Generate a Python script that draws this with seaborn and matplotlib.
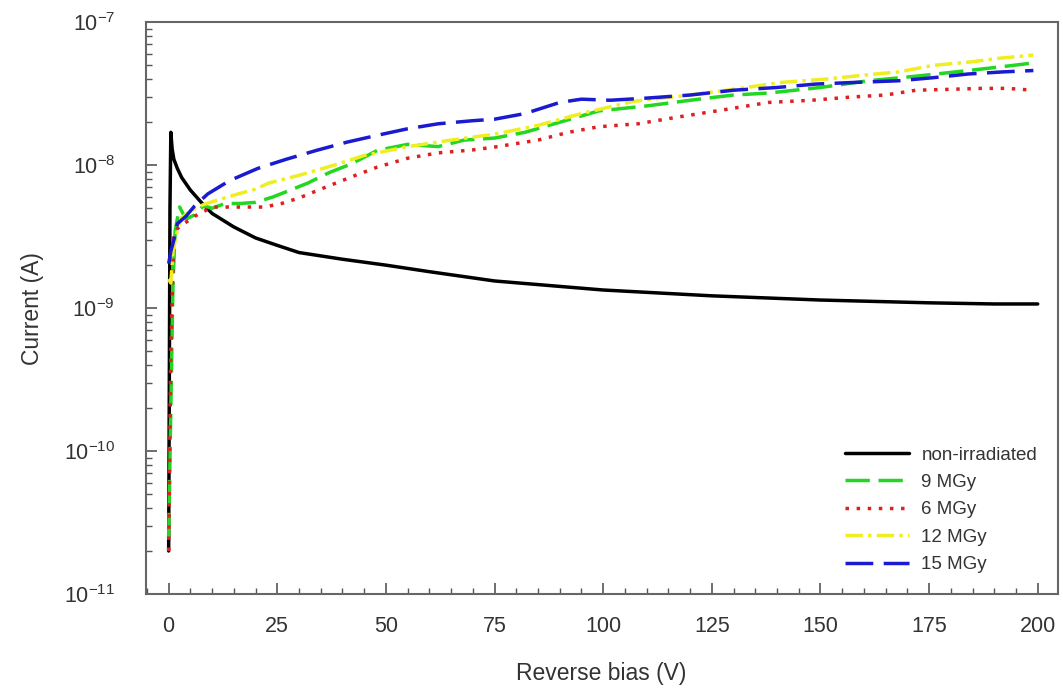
import numpy as np
import pandas as pd
import matplotlib
matplotlib.use("Agg")
import matplotlib.pyplot as plt
import matplotlib.ticker as mticker
import seaborn as sns

# ---- data ----
v_non = [0, 0.15, 0.3, 0.5, 0.8, 1.2, 2, 3, 5, 7.5, 10, 15, 20, 25, 30, 40, 50, 60, 75, 90, 100, 125, 150, 175, 190, 200]
i_non = [2e-11, 3e-10, 5e-9, 1.7e-8, 1.3e-8, 1.1e-8, 9.5e-9, 8.2e-9, 6.7e-9, 5.5e-9, 4.6e-9, 3.7e-9, 3.1e-9, 2.75e-9,
         2.45e-9, 2.2e-9, 2.0e-9, 1.8e-9, 1.55e-9, 1.42e-9, 1.34e-9, 1.22e-9, 1.14e-9, 1.09e-9, 1.07e-9, 1.07e-9]

v_9 = [0, 0.5, 1, 1.5, 2.5, 4, 6, 8, 10, 13, 16.5, 20, 24, 28, 32, 37, 42, 48, 55, 62, 68, 75, 82, 90, 99, 110,
       122, 130, 138, 150, 161, 172, 184, 192, 199]
i_9 = [2.5e-11, 2e-10, 1.5e-9, 3.5e-9, 5.1e-9, 4.2e-9, 4.5e-9, 5.2e-9, 5.0e-9, 5.4e-9, 5.4e-9, 5.5e-9, 6.0e-9, 6.7e-9,
       7.5e-9, 8.9e-9, 1.02e-8, 1.27e-8, 1.4e-8, 1.35e-8, 1.5e-8, 1.55e-8, 1.7e-8, 2.0e-8, 2.4e-8, 2.6e-8, 2.9e-8,
       3.1e-8, 3.2e-8, 3.5e-8, 3.9e-8, 4.2e-8, 4.6e-8, 4.9e-8, 5.2e-8]

v_6 = [0, 0.5, 1.2, 2, 3.5, 6, 10, 15, 22, 26, 30, 37, 43, 48, 55, 62, 70, 75, 85, 92, 99, 108, 117, 128, 138, 148,
       157, 165, 172, 180, 187, 193, 199]
i_6 = [2e-11, 5e-10, 3.3e-9, 3.6e-9, 3.9e-9, 4.4e-9, 5.1e-9, 5.1e-9, 5.1e-9, 5.4e-9, 5.9e-9, 7.2e-9, 8.5e-9, 9.7e-9,
       1.12e-8, 1.22e-8, 1.28e-8, 1.34e-8, 1.5e-8, 1.7e-8, 1.86e-8, 1.95e-8, 2.17e-8, 2.45e-8, 2.75e-8, 2.85e-8,
       3.0e-8, 3.1e-8, 3.35e-8, 3.4e-8, 3.45e-8, 3.45e-8, 3.35e-8]

v_12 = [0, 0.5, 1, 2, 3, 5, 8, 12, 16, 20, 23, 30, 38, 45, 55, 65, 75, 85, 95, 107, 120, 130, 141, 151, 161, 168,
        176, 185, 191, 199]
i_12 = [1.6e-9, 1.5e-9, 2.5e-9, 3.5e-9, 4.3e-9, 4.8e-9, 5.3e-9, 5.8e-9, 6.3e-9, 6.8e-9, 7.5e-9, 8.5e-9, 1.0e-8,
        1.17e-8, 1.35e-8, 1.5e-8, 1.65e-8, 1.9e-8, 2.3e-8, 2.8e-8, 3.1e-8, 3.4e-8, 3.8e-8, 4.0e-8, 4.3e-8, 4.5e-8,
        5.0e-8, 5.3e-8, 5.6e-8, 5.9e-8]

v_15 = [0, 0.5, 1.2, 2, 4, 6, 9, 14, 20.5, 27, 34, 41, 48, 55, 62, 70, 75, 82, 90, 95, 101.6, 110, 120, 130, 140,
        149, 158, 168, 176, 184, 192, 199]
i_15 = [2.05e-9, 2.5e-9, 3.0e-9, 3.9e-9, 4.4e-9, 5.2e-9, 6.3e-9, 7.8e-9, 9.5e-9, 1.1e-8, 1.27e-8, 1.45e-8, 1.62e-8,
        1.8e-8, 1.95e-8, 2.05e-8, 2.1e-8, 2.3e-8, 2.75e-8, 2.9e-8, 2.85e-8, 2.95e-8, 3.1e-8, 3.35e-8, 3.5e-8,
        3.7e-8, 3.8e-8, 3.9e-8, 4.1e-8, 4.35e-8, 4.5e-8, 4.6e-8]

labels = ["non-irradiated", "9 MGy", "6 MGy", "12 MGy", "15 MGy"]
x_ticks = [0, 25, 50, 75, 100, 125, 150, 175, 200]
y_ticks = [1e-11, 1e-10, 1e-9, 1e-8, 1e-7]

# ---- style ----
sns.set_theme(style="ticks")
plt.rcParams['font.family'] = ['Liberation Sans', 'DejaVu Sans']
plt.rcParams['mathtext.default'] = 'regular'

fig = plt.figure(figsize=(10.63, 6.98), dpi=100)
ax = fig.add_axes([0.137, 0.149, 0.858, 0.819])

series = [
    (v_non, i_non, labels[0], "#000000", "-"),
    (v_9, i_9, labels[1], "#22d622", (0, (7, 2.5))),
    (v_6, i_6, labels[2], "#dd2020", (0, (1.0, 2.2))),
    (v_12, i_12, labels[3], "#eeee22", (0, (5, 1.5, 1, 1.5))),
    (v_15, i_15, labels[4], "#1a1ad0", (0, (8, 3))),
]
for v, i, lab, col, ls in series:
    df = pd.DataFrame({"V": v, "I": i})
    sns.lineplot(data=df, x="V", y="I", ax=ax, color=col, linestyle=ls, linewidth=2.5,
                 label=lab, sort=False, estimator=None)

ax.set_yscale("log")
ax.set_ylim(1e-11, 1e-7)
ax.set_xlim(-5.3, 204.6)
ax.set_xticks(x_ticks)
ax.xaxis.set_minor_locator(mticker.MultipleLocator(5))
ax.yaxis.set_major_locator(mticker.FixedLocator(y_ticks))
ax.yaxis.set_minor_locator(mticker.LogLocator(base=10, subs=np.arange(2, 10), numticks=20))
ax.yaxis.set_major_formatter(mticker.FuncFormatter(lambda val, pos: r"$10^{%d}$" % int(round(np.log10(val)))))
ax.yaxis.set_minor_formatter(mticker.NullFormatter())

ax.tick_params(which="major", direction="in", length=8, width=1.2, colors="#555555", labelcolor="#333333",
               labelsize=15.5)
ax.tick_params(axis="x", which="major", pad=16)
ax.tick_params(axis="y", which="major", pad=22)
ax.tick_params(which="minor", direction="in", length=4, width=1.0, colors="#555555")
for s in ax.spines.values():
    s.set_color("#666666")
    s.set_linewidth(1.5)

ax.set_xlabel("Reverse bias (V)", fontsize=16.5, color="#333333", labelpad=18)
ax.set_ylabel("Current (A)", fontsize=16.5, color="#333333", labelpad=14)

leg = ax.legend(loc="lower right", frameon=False, fontsize=13.5, handlelength=3.4,
                labelspacing=0.55, borderaxespad=0.7, handletextpad=0.65)
for t in leg.get_texts():
    t.set_color("#333333")

fig.savefig("out.png", dpi=100)
